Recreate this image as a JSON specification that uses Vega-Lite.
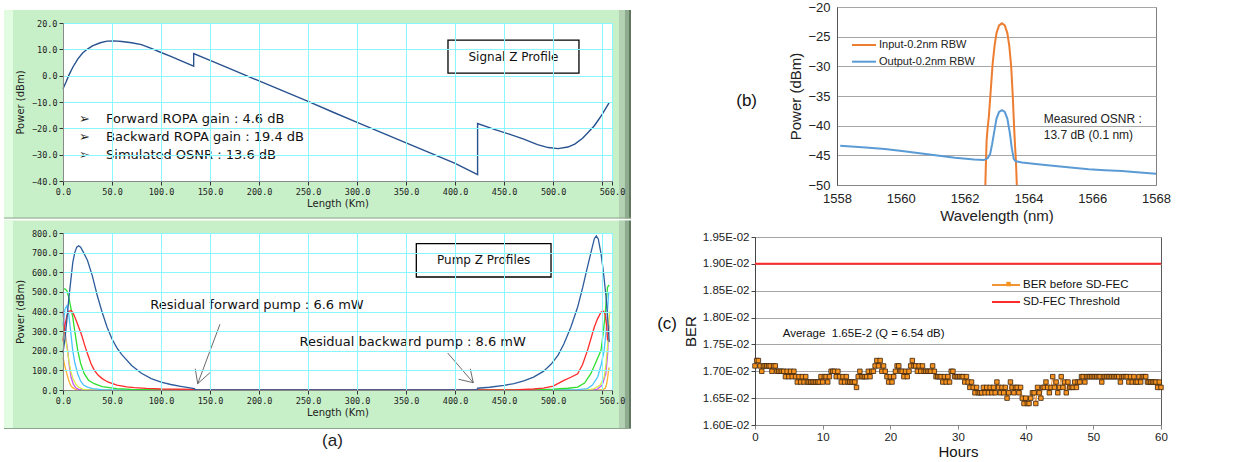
{
"$schema": "https://vega.github.io/schema/vega-lite/v6.json",
"background": "white",
"padding": {"left": 3, "top": 0, "right": 0, "bottom": 0},
"config": {"view": {"stroke": null}, "font": "Liberation Sans"},
"resolve": {"scale": {"color": "independent", "shape": "independent"}},
"datasets": {
"signal": [{"km":0,"dbm":-5},{"km":3,"dbm":-2.5},{"km":6,"dbm":0.2},{"km":10,"dbm":3.2},{"km":15,"dbm":6.3},{"km":20,"dbm":8.6},{"km":25,"dbm":10.1},{"km":30,"dbm":11.3},{"km":38,"dbm":12.5},{"km":45,"dbm":13.1},{"km":52,"dbm":13.2},{"km":60,"dbm":13.0},{"km":70,"dbm":12.5},{"km":80,"dbm":11.8},{"km":90,"dbm":10.4},{"km":100,"dbm":8.8},{"km":110,"dbm":7.3},{"km":120,"dbm":5.7},{"km":133.3,"dbm":3.6},{"km":133.3,"dbm":8.4},{"km":150,"dbm":5.8},{"km":175,"dbm":1.9},{"km":200,"dbm":-2.0},{"km":225,"dbm":-5.9},{"km":250,"dbm":-9.8},{"km":275,"dbm":-13.8},{"km":300,"dbm":-17.7},{"km":325,"dbm":-21.6},{"km":350,"dbm":-25.5},{"km":375,"dbm":-29.4},{"km":400,"dbm":-33.3},{"km":422.9,"dbm":-37.6},{"km":422.9,"dbm":-18.2},{"km":440,"dbm":-20.4},{"km":456,"dbm":-22.3},{"km":470,"dbm":-24.1},{"km":484,"dbm":-26.2},{"km":495,"dbm":-27.3},{"km":505,"dbm":-27.7},{"km":515,"dbm":-27.1},{"km":522,"dbm":-26.0},{"km":530,"dbm":-23.8},{"km":537,"dbm":-21.0},{"km":542,"dbm":-19.0},{"km":548,"dbm":-15.8},{"km":553,"dbm":-12.8},{"km":557,"dbm":-10.3}],
"pumps": [
{"km":0,"mw":165,"p":"p1"},{"km":2,"mw":120,"p":"p1"},{"km":3.5,"mw":90,"p":"p1"},{"km":4.8,"mw":66,"p":"p1"},{"km":6.5,"mw":40,"p":"p1"},{"km":8,"mw":22,"p":"p1"},{"km":9.9,"mw":12,"p":"p1"},{"km":12,"mw":5,"p":"p1"},{"km":15,"mw":1,"p":"p1"},{"km":20,"mw":0,"p":"p1"},{"km":540,"mw":0,"p":"p1"},{"km":548,"mw":1,"p":"p1"},{"km":551,"mw":3,"p":"p1"},{"km":553,"mw":8,"p":"p1"},{"km":554.5,"mw":30,"p":"p1"},{"km":555.5,"mw":60,"p":"p1"},{"km":556.5,"mw":100,"p":"p1"},{"km":557.2,"mw":115,"p":"p1"},
{"km":0,"mw":400,"p":"p2"},{"km":1.5,"mw":320,"p":"p2"},{"km":3,"mw":260,"p":"p2"},{"km":4.8,"mw":202,"p":"p2"},{"km":6.5,"mw":120,"p":"p2"},{"km":8.2,"mw":66,"p":"p2"},{"km":10.5,"mw":30,"p":"p2"},{"km":13.3,"mw":10,"p":"p2"},{"km":16,"mw":3,"p":"p2"},{"km":20,"mw":0,"p":"p2"},{"km":540,"mw":0,"p":"p2"},{"km":545,"mw":4,"p":"p2"},{"km":550,"mw":25,"p":"p2"},{"km":553.7,"mw":83,"p":"p2"},{"km":555.5,"mw":180,"p":"p2"},{"km":556.5,"mw":295,"p":"p2"},{"km":557.2,"mw":330,"p":"p2"},
{"km":0,"mw":330,"p":"p3"},{"km":2,"mw":290,"p":"p3"},{"km":4,"mw":215,"p":"p3"},{"km":6,"mw":150,"p":"p3"},{"km":8,"mw":95,"p":"p3"},{"km":10,"mw":60,"p":"p3"},{"km":13,"mw":30,"p":"p3"},{"km":16,"mw":14,"p":"p3"},{"km":20,"mw":5,"p":"p3"},{"km":25,"mw":1,"p":"p3"},{"km":30,"mw":0,"p":"p3"},{"km":530,"mw":0,"p":"p3"},{"km":538,"mw":3,"p":"p3"},{"km":542,"mw":7,"p":"p3"},{"km":548,"mw":25,"p":"p3"},{"km":552,"mw":66,"p":"p3"},{"km":554,"mw":140,"p":"p3"},{"km":556.5,"mw":287,"p":"p3"},{"km":557.5,"mw":400,"p":"p3"},
{"km":0,"mw":330,"p":"p4"},{"km":2,"mw":410,"p":"p4"},{"km":4,"mw":430,"p":"p4"},{"km":6,"mw":380,"p":"p4"},{"km":8,"mw":290,"p":"p4"},{"km":9.9,"mw":202,"p":"p4"},{"km":12,"mw":140,"p":"p4"},{"km":15,"mw":83,"p":"p4"},{"km":18,"mw":45,"p":"p4"},{"km":21,"mw":25,"p":"p4"},{"km":25,"mw":15,"p":"p4"},{"km":30,"mw":7,"p":"p4"},{"km":40,"mw":2,"p":"p4"},{"km":50,"mw":0,"p":"p4"},{"km":515,"mw":0,"p":"p4"},{"km":525,"mw":2,"p":"p4"},{"km":535,"mw":7,"p":"p4"},{"km":540,"mw":25,"p":"p4"},{"km":545.4,"mw":66,"p":"p4"},{"km":549,"mw":130,"p":"p4"},{"km":552,"mw":202,"p":"p4"},{"km":554,"mw":300,"p":"p4"},{"km":556.5,"mw":491,"p":"p4"},{"km":557.5,"mw":500,"p":"p4"},
{"km":0,"mw":515,"p":"p5"},{"km":2,"mw":515,"p":"p5"},{"km":4,"mw":505,"p":"p5"},{"km":6,"mw":470,"p":"p5"},{"km":8,"mw":420,"p":"p5"},{"km":10,"mw":370,"p":"p5"},{"km":12,"mw":300,"p":"p5"},{"km":15,"mw":202,"p":"p5"},{"km":18,"mw":135,"p":"p5"},{"km":21.7,"mw":83,"p":"p5"},{"km":26,"mw":50,"p":"p5"},{"km":31.9,"mw":32,"p":"p5"},{"km":40,"mw":17,"p":"p5"},{"km":55,"mw":7,"p":"p5"},{"km":70,"mw":3,"p":"p5"},{"km":100,"mw":1,"p":"p5"},{"km":110,"mw":0,"p":"p5"},{"km":470,"mw":0,"p":"p5"},{"km":480,"mw":1,"p":"p5"},{"km":500,"mw":4,"p":"p5"},{"km":515,"mw":9,"p":"p5"},{"km":525,"mw":15,"p":"p5"},{"km":532,"mw":35,"p":"p5"},{"km":538.4,"mw":83,"p":"p5"},{"km":543,"mw":135,"p":"p5"},{"km":548.8,"mw":202,"p":"p5"},{"km":551,"mw":290,"p":"p5"},{"km":552.8,"mw":372,"p":"p5"},{"km":554,"mw":450,"p":"p5"},{"km":555.5,"mw":525,"p":"p5"},{"km":557.2,"mw":535,"p":"p5"},
{"km":0,"mw":250,"p":"p6"},{"km":2,"mw":330,"p":"p6"},{"km":4,"mw":380,"p":"p6"},{"km":6,"mw":400,"p":"p6"},{"km":8,"mw":405,"p":"p6"},{"km":10,"mw":395,"p":"p6"},{"km":13,"mw":360,"p":"p6"},{"km":16,"mw":320,"p":"p6"},{"km":19,"mw":280,"p":"p6"},{"km":22,"mw":230,"p":"p6"},{"km":25,"mw":185,"p":"p6"},{"km":28.6,"mw":134,"p":"p6"},{"km":32,"mw":100,"p":"p6"},{"km":36,"mw":75,"p":"p6"},{"km":40,"mw":58,"p":"p6"},{"km":45.6,"mw":41,"p":"p6"},{"km":55,"mw":25,"p":"p6"},{"km":65,"mw":16,"p":"p6"},{"km":72.7,"mw":12,"p":"p6"},{"km":85,"mw":8,"p":"p6"},{"km":100,"mw":5,"p":"p6"},{"km":134,"mw":3,"p":"p6"},{"km":135,"mw":0,"p":"p6"},{"km":423,"mw":0,"p":"p6"},{"km":460,"mw":1,"p":"p6"},{"km":480,"mw":5,"p":"p6"},{"km":490,"mw":10,"p":"p6"},{"km":500,"mw":20,"p":"p6"},{"km":511,"mw":49,"p":"p6"},{"km":518,"mw":65,"p":"p6"},{"km":525,"mw":83,"p":"p6"},{"km":530,"mw":130,"p":"p6"},{"km":535,"mw":202,"p":"p6"},{"km":539,"mw":270,"p":"p6"},{"km":542,"mw":321,"p":"p6"},{"km":545,"mw":360,"p":"p6"},{"km":548.8,"mw":397,"p":"p6"},{"km":551.4,"mw":401,"p":"p6"},{"km":553,"mw":385,"p":"p6"},{"km":554.5,"mw":330,"p":"p6"},{"km":555.5,"mw":253,"p":"p6"},
{"km":0,"mw":190,"p":"p7"},{"km":2,"mw":260,"p":"p7"},{"km":4,"mw":360,"p":"p7"},{"km":6,"mw":470,"p":"p7"},{"km":8,"mw":560,"p":"p7"},{"km":10,"mw":650,"p":"p7"},{"km":12,"mw":700,"p":"p7"},{"km":14,"mw":728,"p":"p7"},{"km":16,"mw":735,"p":"p7"},{"km":18,"mw":728,"p":"p7"},{"km":21,"mw":700,"p":"p7"},{"km":25,"mw":660,"p":"p7"},{"km":30,"mw":580,"p":"p7"},{"km":35,"mw":480,"p":"p7"},{"km":40,"mw":395,"p":"p7"},{"km":45,"mw":320,"p":"p7"},{"km":50,"mw":260,"p":"p7"},{"km":55,"mw":215,"p":"p7"},{"km":60,"mw":180,"p":"p7"},{"km":70,"mw":125,"p":"p7"},{"km":80,"mw":85,"p":"p7"},{"km":90,"mw":58,"p":"p7"},{"km":100,"mw":40,"p":"p7"},{"km":110,"mw":28,"p":"p7"},{"km":120,"mw":19,"p":"p7"},{"km":134,"mw":7,"p":"p7"},{"km":135,"mw":0,"p":"p7"},{"km":422,"mw":0,"p":"p7"},{"km":423,"mw":9,"p":"p7"},{"km":435,"mw":14,"p":"p7"},{"km":450,"mw":24,"p":"p7"},{"km":460,"mw":33,"p":"p7"},{"km":470,"mw":46,"p":"p7"},{"km":480,"mw":66,"p":"p7"},{"km":490,"mw":95,"p":"p7"},{"km":498,"mw":132,"p":"p7"},{"km":505,"mw":178,"p":"p7"},{"km":511,"mw":236,"p":"p7"},{"km":518,"mw":320,"p":"p7"},{"km":525,"mw":423,"p":"p7"},{"km":530,"mw":520,"p":"p7"},{"km":535,"mw":627,"p":"p7"},{"km":539,"mw":710,"p":"p7"},{"km":542,"mw":771,"p":"p7"},{"km":544,"mw":785,"p":"p7"},{"km":546,"mw":770,"p":"p7"},{"km":548.8,"mw":695,"p":"p7"},{"km":550.5,"mw":630,"p":"p7"},{"km":552,"mw":567,"p":"p7"},{"km":554,"mw":470,"p":"p7"},{"km":555.5,"mw":372,"p":"p7"},{"km":557.2,"mw":245,"p":"p7"}
],
"spectrum": [
{"nm":1562.64,"dbm":-52,"series":"Input-0.2nm RBW"},{"nm":1562.67,"dbm":-46,"series":"Input-0.2nm RBW"},{"nm":1562.69,"dbm":-42.5,"series":"Input-0.2nm RBW"},{"nm":1562.72,"dbm":-40.5,"series":"Input-0.2nm RBW"},{"nm":1562.76,"dbm":-38.5,"series":"Input-0.2nm RBW"},{"nm":1562.82,"dbm":-34,"series":"Input-0.2nm RBW"},{"nm":1562.88,"dbm":-29.5,"series":"Input-0.2nm RBW"},{"nm":1562.94,"dbm":-26.5,"series":"Input-0.2nm RBW"},{"nm":1563.0,"dbm":-24.4,"series":"Input-0.2nm RBW"},{"nm":1563.08,"dbm":-23.1,"series":"Input-0.2nm RBW"},{"nm":1563.17,"dbm":-22.75,"series":"Input-0.2nm RBW"},{"nm":1563.26,"dbm":-23.1,"series":"Input-0.2nm RBW"},{"nm":1563.34,"dbm":-24.4,"series":"Input-0.2nm RBW"},{"nm":1563.40,"dbm":-26.5,"series":"Input-0.2nm RBW"},{"nm":1563.46,"dbm":-30,"series":"Input-0.2nm RBW"},{"nm":1563.51,"dbm":-35,"series":"Input-0.2nm RBW"},{"nm":1563.55,"dbm":-40,"series":"Input-0.2nm RBW"},{"nm":1563.58,"dbm":-43.3,"series":"Input-0.2nm RBW"},{"nm":1563.61,"dbm":-46,"series":"Input-0.2nm RBW"},{"nm":1563.65,"dbm":-52,"series":"Input-0.2nm RBW"},
{"nm":1558.1,"dbm":-43.4,"series":"Output-0.2nm RBW"},{"nm":1558.9,"dbm":-43.7,"series":"Output-0.2nm RBW"},{"nm":1559.5,"dbm":-43.95,"series":"Output-0.2nm RBW"},{"nm":1560.1,"dbm":-44.3,"series":"Output-0.2nm RBW"},{"nm":1560.9,"dbm":-44.85,"series":"Output-0.2nm RBW"},{"nm":1561.7,"dbm":-45.4,"series":"Output-0.2nm RBW"},{"nm":1562.3,"dbm":-45.7,"series":"Output-0.2nm RBW"},{"nm":1562.6,"dbm":-45.8,"series":"Output-0.2nm RBW"},{"nm":1562.72,"dbm":-45.5,"series":"Output-0.2nm RBW"},{"nm":1562.8,"dbm":-44.8,"series":"Output-0.2nm RBW"},{"nm":1562.86,"dbm":-43.2,"series":"Output-0.2nm RBW"},{"nm":1562.92,"dbm":-41.3,"series":"Output-0.2nm RBW"},{"nm":1563.0,"dbm":-38.8,"series":"Output-0.2nm RBW"},{"nm":1563.08,"dbm":-37.7,"series":"Output-0.2nm RBW"},{"nm":1563.17,"dbm":-37.4,"series":"Output-0.2nm RBW"},{"nm":1563.26,"dbm":-37.7,"series":"Output-0.2nm RBW"},{"nm":1563.34,"dbm":-38.8,"series":"Output-0.2nm RBW"},{"nm":1563.42,"dbm":-41.3,"series":"Output-0.2nm RBW"},{"nm":1563.48,"dbm":-43.8,"series":"Output-0.2nm RBW"},{"nm":1563.54,"dbm":-45.6,"series":"Output-0.2nm RBW"},{"nm":1563.6,"dbm":-46.0,"series":"Output-0.2nm RBW"},{"nm":1563.8,"dbm":-46.2,"series":"Output-0.2nm RBW"},{"nm":1564.3,"dbm":-46.5,"series":"Output-0.2nm RBW"},{"nm":1564.84,"dbm":-46.8,"series":"Output-0.2nm RBW"},{"nm":1565.4,"dbm":-47.1,"series":"Output-0.2nm RBW"},{"nm":1565.89,"dbm":-47.35,"series":"Output-0.2nm RBW"},{"nm":1566.4,"dbm":-47.5,"series":"Output-0.2nm RBW"},{"nm":1566.93,"dbm":-47.65,"series":"Output-0.2nm RBW"},{"nm":1567.5,"dbm":-47.9,"series":"Output-0.2nm RBW"},{"nm":1568,"dbm":-48.1,"series":"Output-0.2nm RBW"}
],
"ber": [
{"h":0,"ber":0.0171},{"h":0.25,"ber":0.0172},{"h":0.5,"ber":0.0172},{"h":0.75,"ber":0.0171},{"h":1,"ber":0.0170},{"h":1.25,"ber":0.0171},{"h":1.5,"ber":0.0171},{"h":1.75,"ber":0.0171},{"h":2,"ber":0.0171},{"h":2.25,"ber":0.0171},{"h":2.5,"ber":0.0170},{"h":2.75,"ber":0.0171},{"h":3,"ber":0.0171},{"h":3.25,"ber":0.0170},{"h":3.5,"ber":0.0170},{"h":3.75,"ber":0.0170},{"h":4,"ber":0.0170},{"h":4.25,"ber":0.0170},{"h":4.5,"ber":0.0169},{"h":4.75,"ber":0.0170},{"h":5,"ber":0.0169},{"h":5.25,"ber":0.0170},{"h":5.5,"ber":0.0169},{"h":5.75,"ber":0.0170},{"h":6,"ber":0.0169},{"h":6.25,"ber":0.0168},{"h":6.5,"ber":0.0169},{"h":6.75,"ber":0.0168},{"h":7,"ber":0.0169},{"h":7.25,"ber":0.0168},{"h":7.5,"ber":0.0169},{"h":7.75,"ber":0.0168},{"h":8,"ber":0.0168},{"h":8.25,"ber":0.0168},{"h":8.5,"ber":0.0168},{"h":8.75,"ber":0.0168},{"h":9,"ber":0.0168},{"h":9.25,"ber":0.0168},{"h":9.5,"ber":0.0168},{"h":9.75,"ber":0.0169},{"h":10,"ber":0.0168},{"h":10.25,"ber":0.0169},{"h":10.5,"ber":0.0169},{"h":10.75,"ber":0.0168},{"h":11,"ber":0.0169},{"h":11.25,"ber":0.0170},{"h":11.5,"ber":0.0170},{"h":11.75,"ber":0.0170},{"h":12,"ber":0.0169},{"h":12.25,"ber":0.0170},{"h":12.5,"ber":0.0169},{"h":12.75,"ber":0.0168},{"h":13,"ber":0.0169},{"h":13.25,"ber":0.0168},{"h":13.5,"ber":0.0169},{"h":13.75,"ber":0.0168},{"h":14,"ber":0.0168},{"h":14.25,"ber":0.0168},{"h":14.5,"ber":0.0168},{"h":14.75,"ber":0.0168},{"h":15,"ber":0.0167},{"h":15.25,"ber":0.0169},{"h":15.5,"ber":0.0170},{"h":15.75,"ber":0.0169},{"h":16,"ber":0.0169},{"h":16.25,"ber":0.0169},{"h":16.5,"ber":0.0169},{"h":16.75,"ber":0.0170},{"h":17,"ber":0.0169},{"h":17.25,"ber":0.0170},{"h":17.5,"ber":0.0170},{"h":17.75,"ber":0.0171},{"h":18,"ber":0.0172},{"h":18.25,"ber":0.0171},{"h":18.5,"ber":0.0172},{"h":18.75,"ber":0.0170},{"h":19,"ber":0.0171},{"h":19.25,"ber":0.0170},{"h":19.5,"ber":0.0169},{"h":19.75,"ber":0.0168},{"h":20,"ber":0.0169},{"h":20.25,"ber":0.0168},{"h":20.5,"ber":0.0169},{"h":20.75,"ber":0.0170},{"h":21,"ber":0.0171},{"h":21.25,"ber":0.0171},{"h":21.5,"ber":0.0170},{"h":21.75,"ber":0.0170},{"h":22,"ber":0.0169},{"h":22.25,"ber":0.0170},{"h":22.5,"ber":0.0169},{"h":22.75,"ber":0.0170},{"h":23,"ber":0.0171},{"h":23.25,"ber":0.0172},{"h":23.5,"ber":0.0171},{"h":23.75,"ber":0.0171},{"h":24,"ber":0.0170},{"h":24.25,"ber":0.0171},{"h":24.5,"ber":0.0170},{"h":24.75,"ber":0.0171},{"h":25,"ber":0.0170},{"h":25.25,"ber":0.0170},{"h":25.5,"ber":0.0170},{"h":25.75,"ber":0.0170},{"h":26,"ber":0.0170},{"h":26.25,"ber":0.0171},{"h":26.5,"ber":0.0170},{"h":26.75,"ber":0.0169},{"h":27,"ber":0.0169},{"h":27.25,"ber":0.0169},{"h":27.5,"ber":0.0169},{"h":27.75,"ber":0.0168},{"h":28,"ber":0.0169},{"h":28.25,"ber":0.0168},{"h":28.5,"ber":0.0169},{"h":28.75,"ber":0.0168},{"h":29,"ber":0.0170},{"h":29.25,"ber":0.0170},{"h":29.5,"ber":0.0169},{"h":29.75,"ber":0.0169},{"h":30,"ber":0.0169},{"h":30.25,"ber":0.0169},{"h":30.5,"ber":0.0169},{"h":30.75,"ber":0.0169},{"h":31,"ber":0.0168},{"h":31.25,"ber":0.0169},{"h":31.5,"ber":0.0168},{"h":31.75,"ber":0.0167},{"h":32,"ber":0.0168},{"h":32.25,"ber":0.0167},{"h":32.5,"ber":0.0166},{"h":32.75,"ber":0.0167},{"h":33,"ber":0.0166},{"h":33.25,"ber":0.0166},{"h":33.5,"ber":0.0166},{"h":33.75,"ber":0.0167},{"h":34,"ber":0.0166},{"h":34.25,"ber":0.0167},{"h":34.5,"ber":0.0166},{"h":34.75,"ber":0.0167},{"h":35,"ber":0.0166},{"h":35.25,"ber":0.0167},{"h":35.5,"ber":0.0166},{"h":35.75,"ber":0.0168},{"h":36,"ber":0.0167},{"h":36.25,"ber":0.0166},{"h":36.5,"ber":0.0167},{"h":36.75,"ber":0.0166},{"h":37,"ber":0.0167},{"h":37.25,"ber":0.0165},{"h":37.5,"ber":0.0166},{"h":37.75,"ber":0.0168},{"h":38,"ber":0.0167},{"h":38.25,"ber":0.0166},{"h":38.5,"ber":0.0167},{"h":38.75,"ber":0.0167},{"h":39,"ber":0.0166},{"h":39.25,"ber":0.0167},{"h":39.5,"ber":0.0165},{"h":39.75,"ber":0.0164},{"h":40,"ber":0.0165},{"h":40.25,"ber":0.0164},{"h":40.5,"ber":0.0164},{"h":40.75,"ber":0.0165},{"h":41,"ber":0.0166},{"h":41.25,"ber":0.0166},{"h":41.5,"ber":0.0164},{"h":41.75,"ber":0.0167},{"h":42,"ber":0.0166},{"h":42.25,"ber":0.0165},{"h":42.5,"ber":0.0167},{"h":42.75,"ber":0.0167},{"h":43,"ber":0.0168},{"h":43.25,"ber":0.0167},{"h":43.5,"ber":0.0166},{"h":43.75,"ber":0.0167},{"h":44,"ber":0.0169},{"h":44.25,"ber":0.0167},{"h":44.5,"ber":0.0168},{"h":44.75,"ber":0.0166},{"h":45,"ber":0.0167},{"h":45.25,"ber":0.0169},{"h":45.5,"ber":0.0167},{"h":45.75,"ber":0.0168},{"h":46,"ber":0.0166},{"h":46.25,"ber":0.0168},{"h":46.5,"ber":0.0167},{"h":46.75,"ber":0.0167},{"h":47,"ber":0.0167},{"h":47.25,"ber":0.0168},{"h":47.5,"ber":0.0167},{"h":47.75,"ber":0.0168},{"h":48,"ber":0.0168},{"h":48.25,"ber":0.0169},{"h":48.5,"ber":0.0169},{"h":48.75,"ber":0.0168},{"h":49,"ber":0.0169},{"h":49.25,"ber":0.0169},{"h":49.5,"ber":0.0169},{"h":49.75,"ber":0.0169},{"h":50,"ber":0.0169},{"h":50.25,"ber":0.0169},{"h":50.5,"ber":0.0169},{"h":50.75,"ber":0.0169},{"h":51,"ber":0.0169},{"h":51.25,"ber":0.0168},{"h":51.5,"ber":0.0169},{"h":51.75,"ber":0.0169},{"h":52,"ber":0.0169},{"h":52.25,"ber":0.0169},{"h":52.5,"ber":0.0169},{"h":52.75,"ber":0.0169},{"h":53,"ber":0.0169},{"h":53.25,"ber":0.0169},{"h":53.5,"ber":0.0169},{"h":53.75,"ber":0.0169},{"h":54,"ber":0.0168},{"h":54.25,"ber":0.0169},{"h":54.5,"ber":0.0169},{"h":54.75,"ber":0.0169},{"h":55,"ber":0.0169},{"h":55.25,"ber":0.0168},{"h":55.5,"ber":0.0169},{"h":55.75,"ber":0.0168},{"h":56,"ber":0.0169},{"h":56.25,"ber":0.0168},{"h":56.5,"ber":0.0168},{"h":56.75,"ber":0.0169},{"h":57,"ber":0.0168},{"h":57.25,"ber":0.0169},{"h":57.5,"ber":0.0169},{"h":57.75,"ber":0.0169},{"h":58,"ber":0.0168},{"h":58.25,"ber":0.0168},{"h":58.5,"ber":0.0168},{"h":58.75,"ber":0.0168},{"h":59,"ber":0.0168},{"h":59.25,"ber":0.0168},{"h":59.5,"ber":0.0167},{"h":59.75,"ber":0.0168},{"h":60,"ber":0.0167}
]
},
"hconcat": [
{
"spacing": 1,
"title": {"text": "(a)", "orient": "bottom", "anchor": "middle", "font": "Liberation Sans", "fontSize": 17, "fontWeight": "normal", "color": "#222", "offset": 4, "dx": 15},
"vconcat": [
{"width": 549, "height": 1, "data": {"values": [{}]}, "mark": {"type": "text", "text": " ", "fontSize": 1}, "encoding": {}},
{
"width": 549, "height": 158,
"layer": [
{"data": {"values": [{}]}, "mark": {"type": "rect", "color": "#c8f0c8"}, "encoding": {
 "x": {"datum": -60.2, "type": "quantitative", "scale": {"domain": [0, 560], "nice": false, "zero": false},
  "axis": {"values": [0,50,100,150,200,250,300,350,400,450,500,550,560], "tickCount": 30, "labelExpr": "datum.value == 550 ? '' : format(datum.value, '.1f')", "title": "Length (Km)", "grid": true, "gridColor": "#8af6ff", "domainColor": "#8a8a8a", "tickColor": "#333", "tickSize": 4, "labelFont": "DejaVu Sans Mono", "labelFontSize": 8.5, "labelColor": "#222", "labelPadding": 2, "labelOverlap": false, "labelFlush": false, "titleFont": "DejaVu Sans", "titleFontSize": 10, "titleFontWeight": "normal", "titleColor": "#222", "titlePadding": 3, "zindex": 1}},
 "x2": {"datum": 579.4},
 "y": {"datum": 24.94, "type": "quantitative", "scale": {"domain": [-40, 20], "nice": false, "zero": false},
  "axis": {"values": [-40,-30,-20,-10,0,10,20], "tickCount": 30, "format": ".1f", "title": "Power (dBm)", "grid": true, "gridColor": "#8af6ff", "domainColor": "#8a8a8a", "tickColor": "#333", "tickSize": 4, "labelFont": "DejaVu Sans Mono", "labelFontSize": 8.5, "labelColor": "#222", "labelPadding": 2, "labelOverlap": false, "titleFont": "DejaVu Sans", "titleFontSize": 10, "titleFontWeight": "normal", "titleColor": "#222", "titlePadding": 6, "zindex": 1}},
 "y2": {"datum": -54.24}}},
{"data": {"values": [{}]}, "mark": {"type": "rect", "color": "#e2fce2"}, "encoding": {"x": {"datum": -60.2, "type": "quantitative"}, "x2": {"datum": -51}, "y": {"datum": 24.94, "type": "quantitative"}, "y2": {"datum": -54.24}}},
{"data": {"values": [{}]}, "mark": {"type": "rect", "color": "#b3d1b3"}, "encoding": {"x": {"datum": 567.1, "type": "quantitative"}, "x2": {"datum": 573.2}, "y": {"datum": 24.94, "type": "quantitative"}, "y2": {"datum": -54.24}}},
{"data": {"values": [{}]}, "mark": {"type": "rect", "color": "#8fab8f"}, "encoding": {"x": {"datum": 573.2, "type": "quantitative"}, "x2": {"datum": 577.3}, "y": {"datum": 24.94, "type": "quantitative"}, "y2": {"datum": -54.24}}},
{"data": {"values": [{}]}, "mark": {"type": "rect", "color": "#5f765f"}, "encoding": {"x": {"datum": 577.3, "type": "quantitative"}, "x2": {"datum": 579.4}, "y": {"datum": 24.94, "type": "quantitative"}, "y2": {"datum": -54.24}}},
{"data": {"values": [{}]}, "mark": {"type": "rect", "color": "#8ea58e"}, "encoding": {"x": {"datum": -60.2, "type": "quantitative"}, "x2": {"datum": 579.4}, "y": {"datum": -53.86, "type": "quantitative"}, "y2": {"datum": -54.24}}},
{"data": {"values": [{}]}, "mark": {"type": "rect", "color": "white"}, "encoding": {"x": {"datum": 0, "type": "quantitative"}, "x2": {"datum": 560}, "y": {"datum": 20, "type": "quantitative"}, "y2": {"datum": -40}}},
{"data": {"name": "signal"}, "mark": {"type": "line", "color": "#28518f", "strokeWidth": 1.4}, "encoding": {"x": {"field": "km", "type": "quantitative"}, "y": {"field": "dbm", "type": "quantitative"}, "order": {"value": null}}},
{"data": {"values": [{"km": 43.9, "dbm": -16.6, "t": "Forward ROPA gain : 4.6 dB"}, {"km": 43.9, "dbm": -23.3, "t": "Backward ROPA gain : 19.4 dB"}, {"km": 43.9, "dbm": -30.1, "t": "Simulated OSNR : 13.6 dB"}]},
 "layer": [
  {"mark": {"type": "text", "text": "➢", "align": "left", "baseline": "middle", "font": "DejaVu Sans", "fontSize": 13, "color": "#222"}, "encoding": {"x": {"datum": 16.3, "type": "quantitative"}, "y": {"field": "dbm", "type": "quantitative"}}},
  {"mark": {"type": "text", "align": "left", "baseline": "middle", "font": "DejaVu Sans", "fontSize": 13, "color": "#111"}, "encoding": {"x": {"field": "km", "type": "quantitative"}, "y": {"field": "dbm", "type": "quantitative"}, "text": {"field": "t"}}}
 ]},
{"data": {"values": [{}]}, "mark": {"type": "rect", "fill": "white", "stroke": "black", "strokeWidth": 1.3}, "encoding": {"x": {"datum": 392.7, "type": "quantitative"}, "x2": {"datum": 526.3}, "y": {"datum": 13.5, "type": "quantitative"}, "y2": {"datum": 1.0}}},
{"data": {"values": [{"km": 459.5, "dbm": 7.2, "t": "Signal Z Profile"}]}, "mark": {"type": "text", "align": "center", "baseline": "middle", "font": "DejaVu Sans", "fontSize": 12, "color": "#111"}, "encoding": {"x": {"field": "km", "type": "quantitative"}, "y": {"field": "dbm", "type": "quantitative"}, "text": {"field": "t"}}}
]
},
{
"width": 549, "height": 157,
"layer": [
{"data": {"values": [{}]}, "mark": {"type": "rect", "color": "#c8f0c8"}, "encoding": {
 "x": {"datum": -60.2, "type": "quantitative", "scale": {"domain": [0, 560], "nice": false, "zero": false},
  "axis": {"values": [0,50,100,150,200,250,300,350,400,450,500,550,560], "tickCount": 30, "labelExpr": "datum.value == 550 ? '' : format(datum.value, '.1f')", "title": "Length (Km)", "grid": true, "gridColor": "#8af6ff", "domainColor": "#8a8a8a", "tickColor": "#333", "tickSize": 4, "labelFont": "DejaVu Sans Mono", "labelFontSize": 8.5, "labelColor": "#222", "labelPadding": 2, "labelOverlap": false, "labelFlush": false, "titleFont": "DejaVu Sans", "titleFontSize": 10, "titleFontWeight": "normal", "titleColor": "#222", "titlePadding": 3, "zindex": 1}},
 "x2": {"datum": 579.4},
 "y": {"datum": 863.7, "type": "quantitative", "scale": {"domain": [0, 800], "nice": false, "zero": false},
  "axis": {"values": [0,100,200,300,400,500,600,700,800], "tickCount": 30, "format": ".1f", "title": "Power (dBm)", "grid": true, "gridColor": "#8af6ff", "domainColor": "#8a8a8a", "tickColor": "#333", "tickSize": 4, "labelFont": "DejaVu Sans Mono", "labelFontSize": 8.5, "labelColor": "#222", "labelPadding": 2, "labelOverlap": false, "titleFont": "DejaVu Sans", "titleFontSize": 10, "titleFontWeight": "normal", "titleColor": "#222", "titlePadding": 6, "zindex": 1}},
 "y2": {"datum": -198.7}}},
{"data": {"values": [{}]}, "mark": {"type": "rect", "color": "#e2fce2"}, "encoding": {"x": {"datum": -60.2, "type": "quantitative"}, "x2": {"datum": -51}, "y": {"datum": 863.7, "type": "quantitative"}, "y2": {"datum": -198.7}}},
{"data": {"values": [{}]}, "mark": {"type": "rect", "color": "#b3d1b3"}, "encoding": {"x": {"datum": 567.1, "type": "quantitative"}, "x2": {"datum": 573.2}, "y": {"datum": 863.7, "type": "quantitative"}, "y2": {"datum": -198.7}}},
{"data": {"values": [{}]}, "mark": {"type": "rect", "color": "#8fab8f"}, "encoding": {"x": {"datum": 573.2, "type": "quantitative"}, "x2": {"datum": 577.3}, "y": {"datum": 863.7, "type": "quantitative"}, "y2": {"datum": -198.7}}},
{"data": {"values": [{}]}, "mark": {"type": "rect", "color": "#5f765f"}, "encoding": {"x": {"datum": 577.3, "type": "quantitative"}, "x2": {"datum": 579.4}, "y": {"datum": 863.7, "type": "quantitative"}, "y2": {"datum": -198.7}}},
{"data": {"values": [{}]}, "mark": {"type": "rect", "color": "#8ea58e"}, "encoding": {"x": {"datum": -60.2, "type": "quantitative"}, "x2": {"datum": 579.4}, "y": {"datum": -193.6, "type": "quantitative"}, "y2": {"datum": -198.7}}},
{"data": {"values": [{}]}, "mark": {"type": "rect", "color": "white"}, "encoding": {"x": {"datum": 0, "type": "quantitative"}, "x2": {"datum": 560}, "y": {"datum": 800, "type": "quantitative"}, "y2": {"datum": 0}}},
{"data": {"name": "pumps"}, "mark": {"type": "line", "strokeWidth": 1.3}, "encoding": {"x": {"field": "km", "type": "quantitative"}, "y": {"field": "mw", "type": "quantitative"}, "color": {"field": "p", "type": "nominal", "scale": {"domain": ["p1","p2","p3","p4","p5","p6","p7"], "range": ["#ffb02e","#c455f5","#d9ec4a","#4cc4ff","#2ee02e","#ff2a2a","#2d5c9c"]}, "legend": null}, "order": {"value": null}}},
{"data": {"values": [{"km":160.1,"mw":334.8,"km2":137.4,"mw2":32.1},{"km":134.9,"mw":108.5,"km2":137.4,"mw2":32.1},{"km":149.9,"mw":88.2,"km2":137.4,"mw2":32.1},{"km":392.4,"mw":188.5,"km2":418.5,"mw2":37.2},{"km":415.4,"mw":108.5,"km2":418.5,"mw2":37.2},{"km":403.6,"mw":54.5,"km2":418.5,"mw2":37.2}]}, "mark": {"type": "rule", "color": "#444", "strokeWidth": 0.8}, "encoding": {"x": {"field": "km", "type": "quantitative"}, "y": {"field": "mw", "type": "quantitative"}, "x2": {"field": "km2"}, "y2": {"field": "mw2"}}},
{"data": {"values": [{"km": 197.9, "mw": 434.7, "t": "Residual forward pump : 6.6 mW"}, {"km": 356.7, "mw": 244.6, "t": "Residual backward pump : 8.6 mW"}]}, "mark": {"type": "text", "align": "center", "baseline": "middle", "font": "DejaVu Sans", "fontSize": 13, "color": "#111"}, "encoding": {"x": {"field": "km", "type": "quantitative"}, "y": {"field": "mw", "type": "quantitative"}, "text": {"field": "t"}}},
{"data": {"values": [{}]}, "mark": {"type": "rect", "fill": "white", "stroke": "black", "strokeWidth": 1.3}, "encoding": {"x": {"datum": 360.4, "type": "quantitative"}, "x2": {"datum": 497.8}, "y": {"datum": 745.5, "type": "quantitative"}, "y2": {"datum": 575.8}}},
{"data": {"values": [{"km": 429.1, "mw": 660.6, "t": "Pump Z Profiles"}]}, "mark": {"type": "text", "align": "center", "baseline": "middle", "font": "DejaVu Sans", "fontSize": 12, "color": "#111"}, "encoding": {"x": {"field": "km", "type": "quantitative"}, "y": {"field": "mw", "type": "quantitative"}, "text": {"field": "t"}}}
]
}
]
},
{
"spacing": 6,
"resolve": {"scale": {"color": "independent", "shape": "independent"}},
"vconcat": [
{
"spacing": 31,
"resolve": {"scale": {"color": "independent", "shape": "independent"}},
"hconcat": [
{"width": 105, "height": 187, "view": {"fill": "white", "stroke": null}, "data": {"values": [{"tag": "(b)"}]}, "mark": {"type": "text", "align": "right", "baseline": "middle", "font": "Liberation Sans", "fontSize": 17, "color": "#111"}, "encoding": {"x": {"datum": 1, "type": "quantitative", "scale": {"domain": [0, 1]}, "axis": null}, "text": {"field": "tag"}}},
{
"width": 319, "height": 178,
"view": {"stroke": "#7f7f7f"},
"layer": [
{"data": {"name": "spectrum"}, "mark": {"type": "line", "strokeWidth": 2, "clip": true}, "encoding": {
 "x": {"field": "nm", "type": "quantitative", "scale": {"domain": [1558, 1568], "nice": false, "zero": false},
  "axis": {"values": [1558,1560,1562,1564,1566,1568], "tickCount": 30, "format": "d", "title": "Wavelength (nm)", "grid": false, "ticks": false, "domainColor": "#888", "labelFont": "Liberation Sans", "labelFontSize": 13, "labelColor": "#222", "labelPadding": 7, "labelFlush": false, "titleFont": "Liberation Sans", "titleFontSize": 15, "titleFontWeight": "normal", "titleColor": "#222", "titlePadding": 3}},
 "y": {"field": "dbm", "type": "quantitative", "scale": {"domain": [-50, -20], "nice": false, "zero": false},
  "axis": {"values": [-50,-45,-40,-35,-30,-25,-20], "tickCount": 30, "title": "Power (dBm)", "grid": true, "gridColor": "#a6a6a6", "ticks": false, "domainColor": "#555", "labelFont": "Liberation Sans", "labelFontSize": 13, "labelColor": "#222", "labelPadding": 7, "titleFont": "Liberation Sans", "titleFontSize": 15, "titleFontWeight": "normal", "titleColor": "#222", "titlePadding": 4}},
 "color": {"field": "series", "type": "nominal", "scale": {"domain": ["Input-0.2nm RBW", "Output-0.2nm RBW"], "range": ["#ED7D31", "#5B9BD5"]},
  "legend": {"title": null, "orient": "none", "legendX": 20, "legendY": 31, "symbolType": "M-2,0H2", "symbolSize": 144, "symbolStrokeWidth": 2, "labelFont": "Liberation Sans", "labelFontSize": 11, "labelColor": "#222", "labelOffset": 8, "rowPadding": 4.7, "padding": 0}}}},
{"data": {"values": [{"nm": 1564.48, "dbm": -38.8, "t": "Measured OSNR :"}, {"nm": 1564.48, "dbm": -41.6, "t": "13.7 dB (0.1 nm)"}]}, "mark": {"type": "text", "align": "left", "baseline": "middle", "font": "Liberation Sans", "fontSize": 12, "color": "#222"}, "encoding": {"x": {"field": "nm", "type": "quantitative"}, "y": {"field": "dbm", "type": "quantitative"}, "text": {"field": "t"}}}
]
}
]
},
{
"spacing": 5,
"resolve": {"scale": {"color": "independent", "shape": "independent"}},
"hconcat": [
{"width": 25, "height": 174, "view": {"fill": "white", "stroke": null}, "data": {"values": [{"tag": "(c)"}]}, "mark": {"type": "text", "align": "right", "baseline": "middle", "font": "Liberation Sans", "fontSize": 17, "color": "#111"}, "encoding": {"x": {"datum": 1, "type": "quantitative", "scale": {"domain": [0, 1]}, "axis": null}, "text": {"field": "tag"}}},
{
"width": 406, "height": 188,
"view": {"stroke": "#595959"},
"layer": [
{"data": {"name": "ber"}, "mark": {"type": "line", "strokeWidth": 1}, "encoding": {
 "x": {"field": "h", "type": "quantitative", "scale": {"domain": [0, 60], "nice": false, "zero": false},
  "axis": {"values": [0,10,20,30,40,50,60], "tickCount": 30, "title": "Hours", "grid": false, "domainColor": "#888", "tickColor": "#888", "tickSize": 4, "labelFont": "Liberation Sans", "labelFontSize": 11.5, "labelColor": "#222", "labelPadding": 2, "labelFlush": false, "titleFont": "Liberation Sans", "titleFontSize": 15, "titleFontWeight": "normal", "titleColor": "#111", "titlePadding": 2}},
 "y": {"field": "ber", "type": "quantitative", "scale": {"domain": [0.016, 0.0195], "nice": false, "zero": false},
  "axis": {"values": [0.016,0.0165,0.017,0.0175,0.018,0.0185,0.019,0.0195], "tickCount": 30, "labelExpr": "format(datum.value*100,'.2f')+'E-02'", "title": "BER", "grid": true, "gridColor": "#a6a6a6", "domainColor": "#444", "tickColor": "#444", "tickSize": 4, "labelFont": "Liberation Sans", "labelFontSize": 11.5, "labelColor": "#222", "labelPadding": 2, "labelOverlap": false, "titleFont": "Liberation Sans", "titleFontSize": 15, "titleFontWeight": "normal", "titleColor": "#111", "titlePadding": 4}},
 "color": {"datum": "BER before SD-FEC", "type": "nominal", "scale": {"domain": ["BER before SD-FEC", "SD-FEC Threshold"], "range": ["#F39434", "#FF2A2A"]},
  "legend": {"title": null, "orient": "none", "legendX": 244, "legendY": 41, "symbolType": "M-2.33,0H2.33", "symbolSize": 144, "symbolStrokeWidth": 2, "labelFont": "Liberation Sans", "labelFontSize": 11.5, "labelColor": "#111", "labelOffset": 10, "rowPadding": 4, "padding": 0}}}},
{"data": {"values": [{}]}, "mark": {"type": "rule", "strokeWidth": 2}, "encoding": {"y": {"datum": 0.019, "type": "quantitative"}, "color": {"datum": "SD-FEC Threshold", "type": "nominal"}}},
{"data": {"name": "ber"}, "mark": {"type": "point", "shape": "square", "filled": true, "size": 20, "fill": "#F7931E", "stroke": "#3a2310", "strokeWidth": 0.8, "opacity": 1}, "encoding": {"x": {"field": "h", "type": "quantitative"}, "y": {"field": "ber", "type": "quantitative"},
 "shape": {"datum": "BER before SD-FEC", "type": "nominal", "scale": {"domain": ["BER before SD-FEC"], "range": ["square"]},
  "legend": {"title": null, "orient": "none", "legendX": 247.8, "legendY": 41.3, "symbolSize": 20, "symbolFillColor": "#F7931E", "symbolStrokeColor": "#3a2310", "symbolStrokeWidth": 0.8, "labelExpr": "''", "labelFontSize": 11.5, "padding": 0}}}},
{"data": {"values": [{"h": 4.1, "ber": 0.0177, "t": "Average\u00a0 1.65E-2 (Q = 6.54 dB)"}]}, "mark": {"type": "text", "align": "left", "baseline": "middle", "font": "Liberation Sans", "fontSize": 11.5, "color": "#111"}, "encoding": {"x": {"field": "h", "type": "quantitative"}, "y": {"field": "ber", "type": "quantitative"}, "text": {"field": "t"}}}
]
}
]
}
]
}
],
"spacing": 20
}
